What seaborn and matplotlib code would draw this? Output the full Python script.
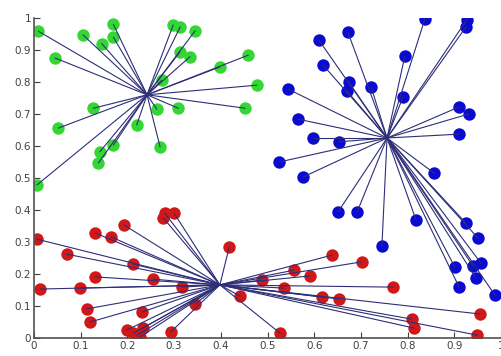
import matplotlib
matplotlib.use('Agg')
import matplotlib.pyplot as plt
import numpy as np
import pandas as pd
import seaborn as sns

sns.set_style('white')

# centroides de cada grupo
centro_verde = (0.242, 0.76)
centro_azul = (0.756, 0.625)
centro_rojo = (0.398, 0.166)

# grupo verde
verde_x = [0.009, 0.105, 0.17, 0.17, 0.145, 0.298, 0.313, 0.345, 0.045, 0.313,
           0.334, 0.459, 0.398, 0.477, 0.274, 0.452, 0.309, 0.263, 0.127, 0.052,
           0.22, 0.27, 0.17, 0.141, 0.138, 0.006]
verde_y = [0.959, 0.947, 0.98, 0.94, 0.92, 0.978, 0.972, 0.96, 0.875, 0.895,
           0.879, 0.884, 0.847, 0.79, 0.806, 0.718, 0.718, 0.715, 0.718, 0.656,
           0.666, 0.597, 0.603, 0.582, 0.547, 0.478]

# grupo azul
azul_x = [0.837, 0.927, 0.925, 0.672, 0.61, 0.794, 0.619, 0.674, 0.67, 0.722,
          0.544, 0.79, 0.91, 0.931, 0.91, 0.565, 0.598, 0.653, 0.525, 0.576,
          0.857, 0.651, 0.692, 0.818, 0.745, 0.925, 0.951, 0.901, 0.94, 0.957,
          0.946, 0.91, 0.987]
azul_y = [0.997, 0.995, 0.972, 0.956, 0.931, 0.881, 0.853, 0.8, 0.772, 0.784,
          0.778, 0.753, 0.722, 0.7, 0.637, 0.684, 0.625, 0.613, 0.55, 0.503,
          0.515, 0.394, 0.394, 0.369, 0.288, 0.359, 0.312, 0.222, 0.225, 0.234,
          0.188, 0.16, 0.134]

# grupo rojo
rojo_x = [0.28, 0.3, 0.277, 0.193, 0.131, 0.165, 0.006, 0.07, 0.212, 0.131,
          0.255, 0.013, 0.099, 0.317, 0.113, 0.231, 0.345, 0.12, 0.199, 0.221,
          0.233, 0.227, 0.213, 0.293, 0.418, 0.441, 0.527, 0.488, 0.557, 0.591,
          0.638, 0.702, 0.535, 0.617, 0.653, 0.769, 0.809, 0.814, 0.955, 0.949]
rojo_y = [0.39, 0.39, 0.375, 0.353, 0.328, 0.316, 0.309, 0.262, 0.231, 0.191,
          0.184, 0.153, 0.156, 0.159, 0.091, 0.081, 0.106, 0.05, 0.025, 0.009,
          0.031, 0.003, 0.015, 0.019, 0.284, 0.131, 0.015, 0.181, 0.212, 0.194,
          0.259, 0.238, 0.156, 0.128, 0.122, 0.159, 0.059, 0.031, 0.075, 0.009]

grupos = [
    (verde_x, verde_y, centro_verde, '#33d633'),
    (azul_x, azul_y, centro_azul, '#0a0ad2'),
    (rojo_x, rojo_y, centro_rojo, '#d01818'),
]

fig = plt.figure(figsize=(5.01, 3.56), dpi=100)
ax = fig.add_axes([34 / 501, 18 / 356, 467 / 501, 320 / 356])

# puntos
for xs, ys, c, color in grupos:
    df = pd.DataFrame({'x': xs, 'y': ys})
    sns.scatterplot(data=df, x='x', y='y', color=color, s=80, linewidth=0,
                    ax=ax, zorder=2)

# lineas de cada punto a su centroide (van encima de los puntos)
for xs, ys, c, color in grupos:
    for px, py in zip(xs, ys):
        ax.plot([c[0], px], [c[1], py], color='#2e2e78', lw=0.8, zorder=3)

ax.set_xlim(0, 1)
ax.set_ylim(0, 1)
ticks = np.round(np.arange(0, 1.01, 0.1), 1)
etiquetas = ['0' if t == 0 else ('1' if t == 1 else str(t)) for t in ticks]
ax.set_xticks(ticks)
ax.set_xticklabels(etiquetas)
ax.set_yticks(ticks)
ax.set_yticklabels(etiquetas)
ax.tick_params(direction='in', length=4, width=0.8, labelsize=7.5,
               colors='#404040', pad=2, left=True, bottom=True)
ax.set_xlabel('')
ax.set_ylabel('')
for lado in ['top', 'right']:
    ax.spines[lado].set_visible(False)
for lado in ['left', 'bottom']:
    ax.spines[lado].set_color('#505050')
    ax.spines[lado].set_linewidth(1.2)

fig.savefig('out.png', dpi=100)
